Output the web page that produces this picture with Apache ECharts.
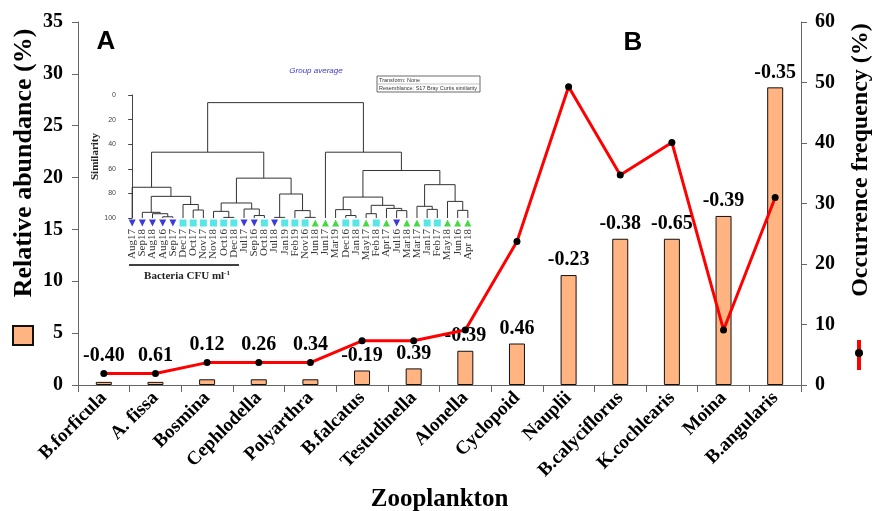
<!DOCTYPE html>
<html>
<head>
<meta charset="utf-8">
<script src="https://cdn.jsdelivr.net/npm/echarts@6/dist/echarts.min.js"></script>
<style>html,body{margin:0;padding:0;background:#fff;}#c{width:874px;height:511px;}</style>
</head>
<body>
<div id="c"></div>
<script>
// ---- Main chart data ----
const categories = ['B.forficula','A. fissa','Bosmina','Cephlodella','Polyarthra','B.falcatus','Testudinella','Alonella','Cyclopoid','Nauplii','B.calyciflorus','K.cochlearis','Moina','B.angularis'];
const abundance = [0.3,0.3,0.55,0.55,0.55,1.4,1.6,3.3,4.0,10.6,14.1,14.1,16.3,28.7];
const occurrence = [1.9,1.9,3.7,3.7,3.7,7.3,7.3,9.1,23.7,49.3,34.7,40.1,9.1,31.0];
const correlations = ['-0.40','0.61','0.12','0.26','0.34','-0.19','0.39','-0.39','0.46','-0.23','-0.38','-0.65','-0.39','-0.35'];
const labelOnLine = [true,true,true,true,true,false,false,false,false,false,false,false,false,false];

// ---- Inset dendrogram data ----
const leaves = ['Aug17','Sep18','Aug18','Aug16','Sep17','Dec17','Oct17','Nov17','Nov18','Oct16','Dec18','Jul17','Sep16','Oct18','Jul18','Jan19','Feb19','Nov16','Jun18','Jun17','Mar19','Dec16','Jan18','May17','Feb18','Apr17','Jul16','Mar18','Mar17','Jan17','Feb17','May18','Jun16','Apr 18'];
const leafGroups = ['D','D','D','D','D','S','S','S','S','S','S','D','D','S','D','S','S','S','U','U','U','S','S','U','S','U','D','U','U','S','S','U','U','U'];
// merges: [nodeA, nodeB, similarity]; leaves are 0..33, merge k becomes node 34+k
const merges = [
  [3,4,99],[2,34,96.5],[1,35,95.4],[6,7,93.5],[5,37,89],[36,38,82.4],[0,39,75],
  [9,10,99.5],[8,41,94.6],[12,13,98],[11,43,92.7],[42,44,87.8],
  [14,15,99.5],[17,18,99.5],[16,47,94],[46,48,80.5],[45,49,67.6],[40,50,46.5],
  [21,22,98],[20,52,93.2],[23,24,96.5],[26,27,94],[25,55,92.2],[54,56,89.7],[53,57,83],
  [29,30,93],[28,59,90.5],[32,33,93.8],[31,61,86.5],[60,62,72.9],[58,63,61.4],[19,64,46.5],
  [51,65,6.2]
];

// build dendrogram segments
const nL = leaves.length;
const pos = [], hgt = [];
for (let i = 0; i < nL; i++) { pos[i] = i; hgt[i] = 100; }
const segs = [];
merges.forEach(([a,b,h],k) => {
  const id = nL + k;
  pos[id] = (pos[a] + pos[b]) / 2; hgt[id] = h;
  segs.push({coords: [[pos[a],hgt[a]],[pos[a],h],[pos[b],h],[pos[b],hgt[b]]]});
});
const groupStyle = {
  D: {symbol:'triangle', rot:180, color:'#0a0ad0'},
  S: {symbol:'rect', rot:0, color:'#30e0e0'},
  U: {symbol:'triangle', rot:0, color:'#18d018'}
};
const leafMarks = leaves.map((n,i) => {
  const g = groupStyle[leafGroups[i]];
  return {value:[i,100], symbol:g.symbol, symbolRotate:g.rot, itemStyle:{color:g.color}};
});

const serif = 'Liberation Serif, Times New Roman, serif';
const sans = 'Liberation Sans, Arial, sans-serif';
const lbl = {fontFamily: serif, fontWeight:'bold', fontSize:20, color:'#000'};

const chart = echarts.init(document.getElementById('c'), null, {renderer:'canvas'});
chart.setOption({
  animation:false,
  backgroundColor:'#fff',
  grid:[
    {left:78, right:73, top:22, bottom:126, outerBoundsMode:'none', containLabel:false},
    {left:122, top:95, width:356, height:123, outerBoundsMode:'none', containLabel:false}
  ],
  legend:{
    data:[{name:'Relative abundance', icon:'rect'}],
    left:12, top:325, itemWidth:20, itemHeight:19, formatter:()=>'', selectedMode:false, padding:0
  },
  xAxis:[
    {type:'category', data:categories, gridIndex:0,
     axisLine:{lineStyle:{color:'#666', width:1}},
     axisTick:{show:true, length:7, lineStyle:{color:'#666'}},
     axisLabel:{interval:0, rotate:45, margin:10, fontFamily:serif, fontWeight:'bold', fontSize:19, color:'#000'},
     name:'Zooplankton', nameLocation:'middle', nameGap:100,
     nameTextStyle:{fontFamily:serif, fontWeight:'bold', fontSize:25, color:'#000'}},
    {type:'value', gridIndex:1, min:-1, max:34, interval:1,
     axisLine:{show:false}, axisTick:{show:false}, splitLine:{show:false},
     axisLabel:{rotate:90, margin:11, fontFamily:serif, fontSize:11, color:'#333',
       formatter:(v)=> (leaves[v] !== undefined ? leaves[v] : '')}}
  ],
  yAxis:[
    {type:'value', gridIndex:0, min:0, max:35, interval:5,
     axisLine:{show:true, lineStyle:{color:'#666'}},
     axisTick:{show:true, length:6, lineStyle:{color:'#666'}},
     splitLine:{show:false},
     axisLabel:Object.assign({margin:15}, lbl)},
    {type:'value', gridIndex:0, position:'right', min:0, max:60, interval:10,
     axisLine:{show:true, lineStyle:{color:'#666'}},
     axisTick:{show:true, length:6, lineStyle:{color:'#666'}},
     splitLine:{show:false},
     axisLabel:Object.assign({margin:14}, lbl)},
    {type:'value', gridIndex:1, inverse:true, min:0, max:100, interval:20,
     axisLine:{show:true, lineStyle:{color:'#444', width:1}},
     axisTick:{show:true, length:4, lineStyle:{color:'#444'}},
     splitLine:{show:false},
     axisLabel:{fontFamily:sans, fontSize:7, color:'#444', margin:6},
     name:'Similarity', nameLocation:'middle', nameGap:20, nameRotate:90,
     nameTextStyle:{fontFamily:serif, fontWeight:'bold', fontSize:11, color:'#222'}}
  ],
  series:[
    {name:'Relative abundance', type:'bar', xAxisIndex:0, yAxisIndex:0, barWidth:16,
     itemStyle:{color:'#FFB482', borderColor:'#111', borderWidth:1},
     label:Object.assign({position:'top', distance:5}, lbl),
     data: abundance.map((v,i)=>({value:v, label:{show:!labelOnLine[i], formatter:correlations[i]}})),
     z:2},
    {name:'Occurrence frequency', type:'line', xAxisIndex:0, yAxisIndex:1,
     symbol:'circle', symbolSize:7, showAllSymbol:true,
     lineStyle:{color:'#ff0000', width:3},
     itemStyle:{color:'#000'},
     label:Object.assign({position:'top', distance:4}, lbl),
     data: occurrence.map((v,i)=>({value:v, label:{show:labelOnLine[i], formatter:correlations[i]}})),
     z:5},
    {type:'lines', coordinateSystem:'cartesian2d', xAxisIndex:1, yAxisIndex:2, polyline:true,
     lineStyle:{color:'#333', width:1, opacity:1}, data:segs, silent:true, z:3},
    {type:'scatter', xAxisIndex:1, yAxisIndex:2, symbolSize:7, symbolOffset:[0,5], clip:false,
     data:leafMarks, silent:true, z:4}
  ],
  graphic:[
    {type:'text', x:24, y:163, rotation:Math.PI/2, style:{text:'Relative abundance (%)', fontFamily:serif, fontWeight:'bold', fontSize:26, fill:'#000', align:'center', verticalAlign:'middle'}},
    {type:'text', x:861, y:160, rotation:Math.PI/2, style:{text:'Occurrence frequency (%)', fontFamily:serif, fontWeight:'bold', fontSize:24, fill:'#000', align:'center', verticalAlign:'middle'}},
    {type:'text', x:106, y:42, style:{text:'A', fontFamily:sans, fontWeight:'bold', fontSize:26, fill:'#000', align:'center', verticalAlign:'middle'}},
    {type:'text', x:633, y:43, style:{text:'B', fontFamily:sans, fontWeight:'bold', fontSize:26, fill:'#000', align:'center', verticalAlign:'middle'}},
    {type:'text', x:316, y:71, style:{text:'Group average', fontFamily:sans, fontStyle:'italic', fontSize:8, fill:'#3a3acc', align:'center', verticalAlign:'middle'}},
    {type:'rect', shape:{x:377, y:76, width:103, height:16}, style:{fill:'#fff', stroke:'#444', lineWidth:0.8}},
    {type:'line', shape:{x1:377, y1:84, x2:480, y2:84}, style:{stroke:'#888', lineWidth:0.5}},
    {type:'text', x:379, y:80, style:{text:'Transform: None', fontFamily:sans, fontSize:5.5, fill:'#333', verticalAlign:'middle'}},
    {type:'text', x:379, y:88, style:{text:'Resemblance: S17 Bray Curtis similarity', fontFamily:sans, fontSize:5.5, fill:'#333', verticalAlign:'middle'}},
    {type:'line', shape:{x1:129, y1:265, x2:239, y2:265}, style:{stroke:'#000', lineWidth:1.5}},
    {type:'text', x:187, y:276, style:{text:'Bacteria CFU ml{sup|-1}', rich:{sup:{fontSize:7, fontFamily:serif, fontWeight:'bold', padding:[0,0,6,0]}}, fontFamily:serif, fontWeight:'bold', fontSize:11, fill:'#222', align:'center', verticalAlign:'middle'}},
    {type:'line', shape:{x1:859, y1:340, x2:859, y2:370}, style:{stroke:'#ff0000', lineWidth:4}},
    {type:'circle', shape:{cx:859, cy:353, r:4}, style:{fill:'#000'}}
  ]
});
</script>
</body>
</html>
